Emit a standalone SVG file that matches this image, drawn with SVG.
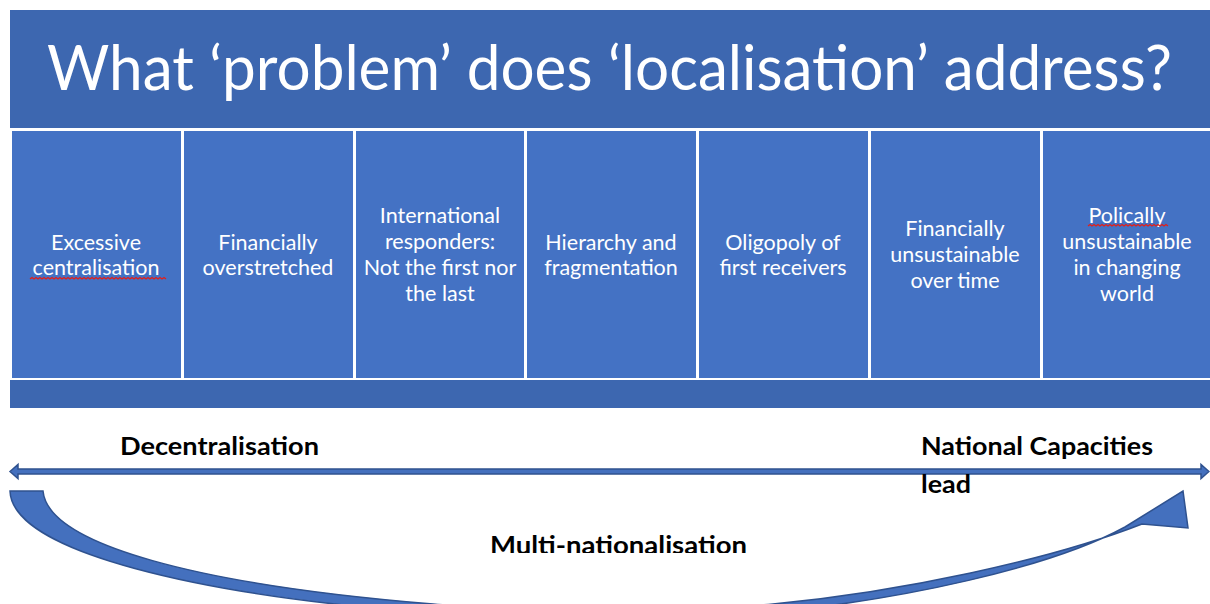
<svg xmlns="http://www.w3.org/2000/svg" width="1210" height="604" viewBox="0 0 1210 604">
<style>
.cell{fill:#4472C4;stroke:#FFFFFF;stroke-width:2}
.ct{font-family:Lato,"Open Sans",sans-serif;font-size:21.5px;fill:#FFFFFF;text-anchor:middle}
.bl{font-family:Lato,"Liberation Sans",sans-serif;font-weight:bold;font-size:24px;fill:#000000}
.wave{fill:none;stroke:#E0201B;stroke-width:1.2}
.conn{fill:#4470BE;stroke:#2F528F;stroke-width:1.5}
</style>
<defs>
<clipPath id="cut"><rect x="0" y="0" width="1210" height="553"/></clipPath>
</defs>
<rect width="1210" height="604" fill="#FFFFFF"/>
<g id="header">
<rect x="10" y="10" width="1200" height="398" fill="#3D67B0"/>
<line x1="10" y1="129" x2="1210" y2="129" stroke="#FFFFFF" stroke-width="2"/>
<text x="47" y="90" font-family="Lato,'Open Sans',sans-serif" font-size="62" fill="#FFFFFF" textLength="1125" lengthAdjust="spacingAndGlyphs">What ‘problem’ does ‘localisation’ address?</text>
</g>
<g id="cell1">
<rect class="cell" x="11" y="130" width="171" height="249"/>
<text class="ct" x="96" y="250">Excessive</text>
<text class="ct" x="96" y="275">centralisation</text>
<path class="wave" d="M30,279 l2,-1.5 l2,1.5 l2,-1.5 l2,1.5 l2,-1.5 l2,1.5 l2,-1.5 l2,1.5 l2,-1.5 l2,1.5 l2,-1.5 l2,1.5 l2,-1.5 l2,1.5 l2,-1.5 l2,1.5 l2,-1.5 l2,1.5 l2,-1.5 l2,1.5 l2,-1.5 l2,1.5 l2,-1.5 l2,1.5 l2,-1.5 l2,1.5 l2,-1.5 l2,1.5 l2,-1.5 l2,1.5 l2,-1.5 l2,1.5 l2,-1.5 l2,1.5 l2,-1.5 l2,1.5 l2,-1.5 l2,1.5 l2,-1.5 l2,1.5 l2,-1.5 l2,1.5 l2,-1.5 l2,1.5 l2,-1.5 l2,1.5 l2,-1.5 l2,1.5 l2,-1.5 l2,1.5 l2,-1.5 l2,1.5 l2,-1.5 l2,1.5 l2,-1.5 l2,1.5 l2,-1.5 l2,1.5 l2,-1.5 l2,1.5 l2,-1.5 l2,1.5 l2,-1.5 l2,1.5 l2,-1.5 l2,1.5 l2,-1.5 l2,1.5"/>
</g>
<g id="cell2">
<rect class="cell" x="183" y="130" width="171" height="249"/>
<text class="ct" x="268" y="250">Financially</text>
<text class="ct" x="268" y="275">overstretched</text>
</g>
<g id="cell3">
<rect class="cell" x="355" y="130" width="170" height="249"/>
<text class="ct" x="440" y="223">International</text>
<text class="ct" x="440" y="249">responders:</text>
<text class="ct" x="440" y="275">Not the first nor</text>
<text class="ct" x="440" y="301">the last</text>
</g>
<g id="cell4">
<rect class="cell" x="526" y="130" width="171" height="249"/>
<text class="ct" x="611" y="250">Hierarchy and</text>
<text class="ct" x="611" y="275">fragmentation</text>
</g>
<g id="cell5">
<rect class="cell" x="698" y="130" width="171" height="249"/>
<text class="ct" x="783" y="250">Oligopoly of</text>
<text class="ct" x="783" y="275">first receivers</text>
</g>
<g id="cell6">
<rect class="cell" x="870" y="130" width="171" height="249"/>
<text class="ct" x="955" y="236">Financially</text>
<text class="ct" x="955" y="262">unsustainable</text>
<text class="ct" x="955" y="288">over time</text>
</g>
<g id="cell7">
<rect class="cell" x="1042" y="130" width="170" height="249"/>
<text class="ct" x="1127" y="223">Polically</text>
<text class="ct" x="1127" y="249">unsustainable</text>
<text class="ct" x="1127" y="275">in changing</text>
<text class="ct" x="1127" y="301">world</text>
<path class="wave" d="M1088,226 l2,-1.5 l2,1.5 l2,-1.5 l2,1.5 l2,-1.5 l2,1.5 l2,-1.5 l2,1.5 l2,-1.5 l2,1.5 l2,-1.5 l2,1.5 l2,-1.5 l2,1.5 l2,-1.5 l2,1.5 l2,-1.5 l2,1.5 l2,-1.5 l2,1.5 l2,-1.5 l2,1.5 l2,-1.5 l2,1.5 l2,-1.5 l2,1.5 l2,-1.5 l2,1.5 l2,-1.5 l2,1.5 l2,-1.5 l2,1.5 l2,-1.5 l2,1.5 l2,-1.5 l2,1.5 l2,-1.5 l2,1.5 l2,-1.5 l2,1.5"/>
</g>
<g id="connectors">
<path class="conn" d="M10,471.5 L18,464.5 L18,469 L1201,469 L1201,464.5 L1209,471.5 L1201,478.5 L1201,474 L18,474 L18,478.5 Z"/>
<path class="conn" d="M10,491 L43,491 C48,545 200,585 433,604 C530,612 680,612 773,604 C900,592 1050,560 1142,524 L1188,528 L1183,491 L1125,527 C1050,568 900,600 773,612 C680,622 530,622 433,613 C200,596 12,552 10,491 Z"/>
</g>
<g id="label-decentralisation">
<text class="bl" x="120" y="455" textLength="199" lengthAdjust="spacingAndGlyphs">Decentralisation</text>
</g>
<g id="label-national">
<text class="bl" x="921" y="455" textLength="232" lengthAdjust="spacingAndGlyphs">National Capacities</text>
<text class="bl" x="921" y="493" textLength="50" lengthAdjust="spacingAndGlyphs">lead</text>
</g>
<g id="label-multi" clip-path="url(#cut)">
<text class="bl" x="490" y="554" textLength="257" lengthAdjust="spacingAndGlyphs">Multi-nationalisation</text>
</g>
</svg>
